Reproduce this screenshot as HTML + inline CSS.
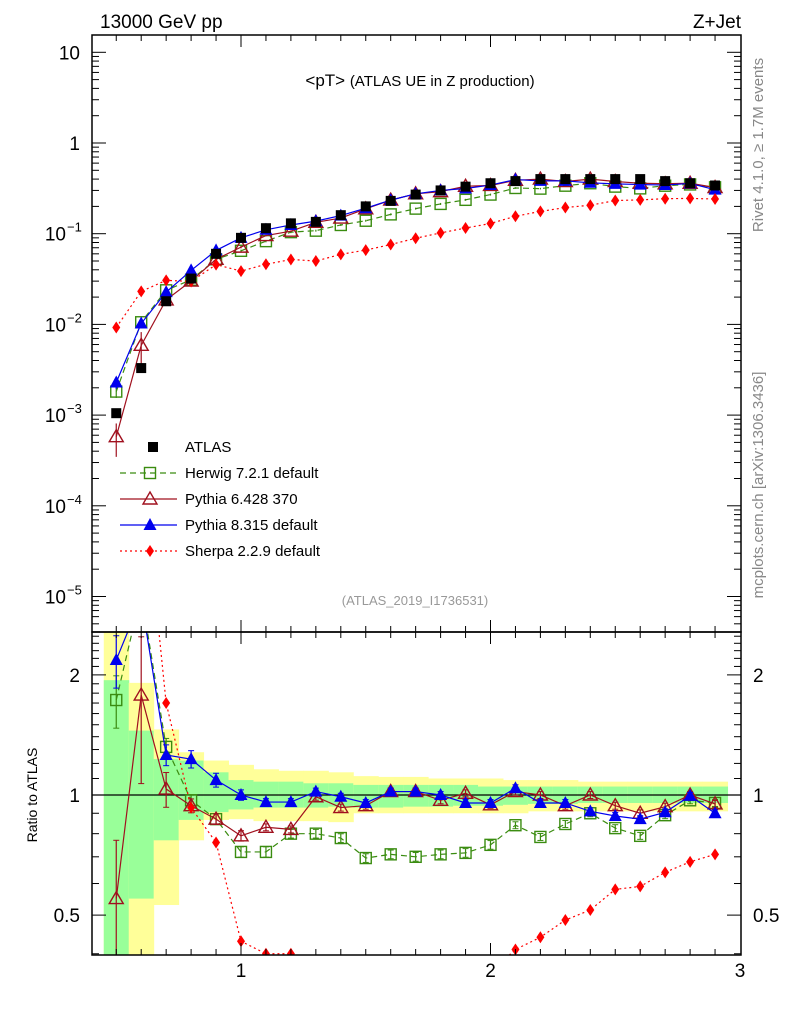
<!DOCTYPE html>
<html><head><meta charset="utf-8"><style>
body{margin:0;background:#fff}
svg{font-family:"Liberation Sans",Arial,sans-serif}
</style></head><body>
<svg id="c" width="786" height="1024" xmlns="http://www.w3.org/2000/svg">
<text x="100" y="28" font-size="19">13000 GeV pp</text>
<text x="741" y="28" font-size="19" text-anchor="end">Z+Jet</text>
<text x="420" y="86" font-size="17" text-anchor="middle">&lt;pT&gt; <tspan font-size="15">(ATLAS UE in Z production)</tspan></text>
<text x="415" y="605" font-size="13" fill="#999" text-anchor="middle">(ATLAS_2019_I1736531)</text>
<text transform="translate(763,145) rotate(-90)" font-size="15" fill="#888" text-anchor="middle">Rivet 4.1.0, ≥ 1.7M events</text>
<text transform="translate(763,485) rotate(-90)" font-size="15" fill="#888" text-anchor="middle">mcplots.cern.ch [arXiv:1306.3436]</text>
<text transform="translate(37,795) rotate(-90)" font-size="14" text-anchor="middle">Ratio to ATLAS</text>
<g id="g"></g>
</svg>
<script>
const xs=[0.5,0.6,0.7,0.8,0.9,1.0,1.1,1.2,1.3,1.4,1.5,1.6,1.7,1.8,1.9,2.0,2.1,2.2,2.3,2.4,2.5,2.6,2.7,2.8,2.9];
const atlas=[0.00105,0.0033,0.018,0.032,0.06,0.09,0.115,0.13,0.135,0.16,0.2,0.23,0.27,0.3,0.33,0.36,0.38,0.4,0.4,0.4,0.4,0.4,0.38,0.36,0.34];
const herwigRatio=[1.73,3.2,1.32,0.97,0.87,0.72,0.72,0.8,0.8,0.78,0.695,0.71,0.7,0.71,0.716,0.75,0.84,0.785,0.846,0.9,0.826,0.79,0.89,0.97,0.955];
const pythia6Ratio=[0.55,1.78,1.035,0.94,0.87,0.79,0.83,0.82,0.99,0.93,0.94,1.02,1.02,0.97,1.01,0.945,1.02,1.0,0.94,1.0,0.94,0.9,0.935,1.0,0.95];
const pythia8Ratio=[2.18,3.1,1.26,1.23,1.09,1.0,0.96,0.96,1.02,0.99,0.955,1.02,1.02,1.0,0.955,0.955,1.04,0.955,0.955,0.91,0.886,0.87,0.905,0.995,0.9];
const sherpaRatio=[8.8,7.0,1.7,0.93,0.76,0.43,0.4,0.4,0.37,0.37,0.33,0.33,0.33,0.34,0.35,0.36,0.41,0.44,0.486,0.515,0.58,0.59,0.64,0.68,0.71];
const herwigErr=[0.15,0.1,0.05,0.03,0.03,0.03,0.03,0.025,0.025,0.025,0.025,0.025,0.025,0.025,0.025,0.025,0.02,0.02,0.02,0.02,0.02,0.02,0.02,0.02,0.02];
const pythia6Err=[0.4,0.4,0.1,0.04,0.03,0.03,0.02,0.02,0.02,0.02,0.02,0.02,0.02,0.02,0.02,0.02,0.02,0.02,0.02,0.02,0.02,0.02,0.02,0.02,0.02];
const pythia8Err=[0.15,0.1,0.06,0.05,0.04,0.03,0.02,0.02,0.02,0.02,0.02,0.02,0.02,0.02,0.02,0.02,0.02,0.02,0.02,0.02,0.02,0.02,0.02,0.02,0.02];
const greenHi=[1.94,1.45,1.23,1.22,1.14,1.09,1.08,1.08,1.07,1.07,1.06,1.06,1.06,1.06,1.06,1.05,1.05,1.05,1.05,1.05,1.05,1.05,1.05,1.05,1.05];
const greenLo=[0.3,0.55,0.77,0.866,0.906,0.92,0.93,0.93,0.93,0.935,0.93,0.93,0.935,0.935,0.94,0.94,0.945,0.95,0.95,0.955,0.955,0.955,0.955,0.955,0.955];
const yellowHi=[3,1.91,1.46,1.28,1.22,1.19,1.16,1.15,1.15,1.14,1.115,1.11,1.11,1.1,1.1,1.1,1.09,1.09,1.09,1.08,1.08,1.08,1.08,1.08,1.08];
const yellowLo=[0.3,0.3,0.53,0.77,0.866,0.87,0.86,0.86,0.86,0.855,0.9,0.9,0.9,0.9,0.9,0.9,0.9,0.91,0.91,0.91,0.91,0.91,0.91,0.91,0.91];

const L=92,R=741,T=35,M=632,B=955;
const X=v=>91.3+(v-0.4)*249.5;
const Y=v=>143-Math.log10(v)*90.7;
const YR=v=>795-Math.log10(v)*399;
const g=document.getElementById('g');const NS='http://www.w3.org/2000/svg';
function el(t,a,p){const e=document.createElementNS(NS,t);for(const k in a)e.setAttribute(k,a[k]);(p||g).appendChild(e);return e;}
function grp(name){const e=el('g',{});return e;}
const bands=grp('ratio-uncertainty-bands');
const clip=el('clipPath',{id:'rc'});el('rect',{x:L,y:M,width:R-L,height:B-M},clip);
const clip2=el('clipPath',{id:'mc'});el('rect',{x:L,y:T,width:R-L,height:M-T},clip2);
bands.setAttribute('clip-path','url(#rc)');
xs.forEach((x,i)=>{const x0=X(x-0.05),w=X(x+0.05)-x0+0.5;
 const r=el('rect',{x:x0,y:YR(yellowHi[i]),width:w,height:YR(yellowLo[i])-YR(yellowHi[i]),fill:'#ffff99'},bands);
 
 const r2=el('rect',{x:x0,y:YR(greenHi[i]),width:w,height:YR(greenLo[i])-YR(greenHi[i]),fill:'#99ff99'},bands);
 });
el('line',{x1:L,x2:R,y1:YR(1),y2:YR(1),stroke:'#000','stroke-width':1.2});
function marker(p,type,x,y,col){
 let e;
 if(type==='sq')e=el('rect',{x:x-5,y:y-5,width:10,height:10,fill:'#000'},p);
 else if(type==='osq')e=el('rect',{x:x-5.5,y:y-5.5,width:11,height:11,fill:'none',stroke:col,'stroke-width':1.4},p);
 else if(type==='otri')e=el('path',{d:`M${x},${y-7}L${x+7},${y+5}L${x-7},${y+5}Z`,fill:'none',stroke:col,'stroke-width':1.4},p);
 else if(type==='tri')e=el('path',{d:`M${x},${y-7}L${x+6.5},${y+5}L${x-6.5},${y+5}Z`,fill:col},p);
 else e=el('path',{d:`M${x},${y-6}L${x+4},${y}L${x},${y+6}L${x-4},${y}Z`,fill:col},p);
 return e;}
const series=[
 {name:'herwig',r:herwigRatio,e:herwigErr,col:'#3a8c10',type:'osq',dash:'6,4',label:'Herwig 7.2.1 default'},
 {name:'pythia6',r:pythia6Ratio,e:pythia6Err,col:'#a0101e',type:'otri',dash:'',label:'Pythia 6.428 370'},
 {name:'pythia8',r:pythia8Ratio,e:pythia8Err,col:'#0000ee',type:'tri',dash:'',label:'Pythia 8.315 default'},
 {name:'sherpa',r:sherpaRatio,e:null,col:'#ff0000',type:'dia',dash:'2,3',label:'Sherpa 2.2.9 default'}];
series.forEach(s=>{
 ['main','ratio'].forEach(pan=>{
  const p=grp(s.name+'-'+pan+'-series');p.setAttribute('clip-path',pan==='main'?'url(#mc)':'url(#rc)');
  const yf=pan==='main'?(i=>Y(atlas[i]*s.r[i])):(i=>YR(s.r[i]));
  const pts=xs.map((x,i)=>X(x)+','+yf(i)).join(' ');
  el('polyline',{points:pts,fill:'none',stroke:s.col,'stroke-width':1.2,'stroke-dasharray':s.dash},p);
  xs.forEach((x,i)=>{
   if(s.e){const lo=s.r[i]*(1-s.e[i]),hi=s.r[i]*(1+s.e[i]);
    const f=pan==='main'?(v=>Y(atlas[i]*v)):YR;
    el('line',{x1:X(x),x2:X(x),y1:f(lo),y2:f(hi),stroke:s.col,'stroke-width':1.2},p);
    if(pan==='ratio'){el('line',{x1:X(x)-3,x2:X(x)+3,y1:f(lo),y2:f(lo),stroke:s.col},p);el('line',{x1:X(x)-3,x2:X(x)+3,y1:f(hi),y2:f(hi),stroke:s.col},p);}}
   const m=marker(p,s.type,X(x),yf(i),s.col);
   
   });
 });});
const ap=grp('atlas-data-series');
xs.forEach((x,i)=>{const m=marker(ap,'sq',X(x),Y(atlas[i]),'#000');
 
 });
const lg=grp('legend');
const ly=[447,473,499,525,551];
let t=el('text',{x:185,y:ly[0]+5,'font-size':15},lg);t.textContent='ATLAS';marker(lg,'sq',153,ly[0],'#000');
series.forEach((s,k)=>{const y=ly[k+1];
 el('line',{x1:120,x2:177,y1:y,y2:y,stroke:s.col,'stroke-width':1.2,'stroke-dasharray':s.dash},lg);
 marker(lg,s.type,150,y,s.col);
 const tx=el('text',{x:185,y:y+5,'font-size':15},lg);tx.textContent=s.label;
 });
el('rect',{x:L,y:T,width:R-L,height:M-T,fill:'none',stroke:'#000','stroke-width':1.5});
el('rect',{x:L,y:M,width:R-L,height:B-M,fill:'none',stroke:'#000','stroke-width':1.5});
for(let k=5;k<=29;k++){const v=k/10,x=X(v),maj=(k%10===0),h=maj?12:6;
 [[T,1],[M,-1],[M,1],[B,-1]].forEach(([y0,d])=>el('line',{x1:x,x2:x,y1:y0,y2:y0+d*h,stroke:'#000'}));}
[1,2,3].forEach(v=>{const tx=el('text',{x:X(v),y:977,'font-size':19,'text-anchor':'middle'});tx.textContent=v;});
for(let d=-6;d<=1;d++){for(let m=1;m<10;m++){const v=m*Math.pow(10,d),y=Y(v);if(y<T||y>M)continue;const h=m===1?14:7;
 el('line',{x1:L,x2:L+h,y1:y,y2:y,stroke:'#000'});el('line',{x1:R,x2:R-h,y1:y,y2:y,stroke:'#000'});}}
const mlab=[[1,'10',''],[0,'1',''],[-1,'10','−1'],[-2,'10','−2'],[-3,'10','−3'],[-4,'10','−4'],[-5,'10','−5']];
mlab.forEach(([d,b,e])=>{const y=Y(Math.pow(10,d))+7;
 const tx=el('text',{x:e?66:80,y:y,'font-size':19,'text-anchor':'end'});tx.textContent=b;
 
 if(e){const s=el('text',{x:67,y:y-9,'font-size':13});s.textContent=e;}});
for(let v=0.4;v<=2.56;v+=0.1){const y=YR(v);if(y<M||y>B)continue;const maj=Math.abs(v-0.5)<1e-6||Math.abs(v-1)<1e-6||Math.abs(v-2)<1e-6;const h=maj?14:7;
 el('line',{x1:L,x2:L+h,y1:y,y2:y,stroke:'#000'});el('line',{x1:R,x2:R-h,y1:y,y2:y,stroke:'#000'});}
[[2,'2'],[1,'1'],[0.5,'0.5']].forEach(([v,s])=>{const y=YR(v)+7;
 let tx=el('text',{x:80,y:y,'font-size':19,'text-anchor':'end'});tx.textContent=s;
 tx=el('text',{x:753,y:y,'font-size':19});tx.textContent=s;});
</script>
</body></html>
